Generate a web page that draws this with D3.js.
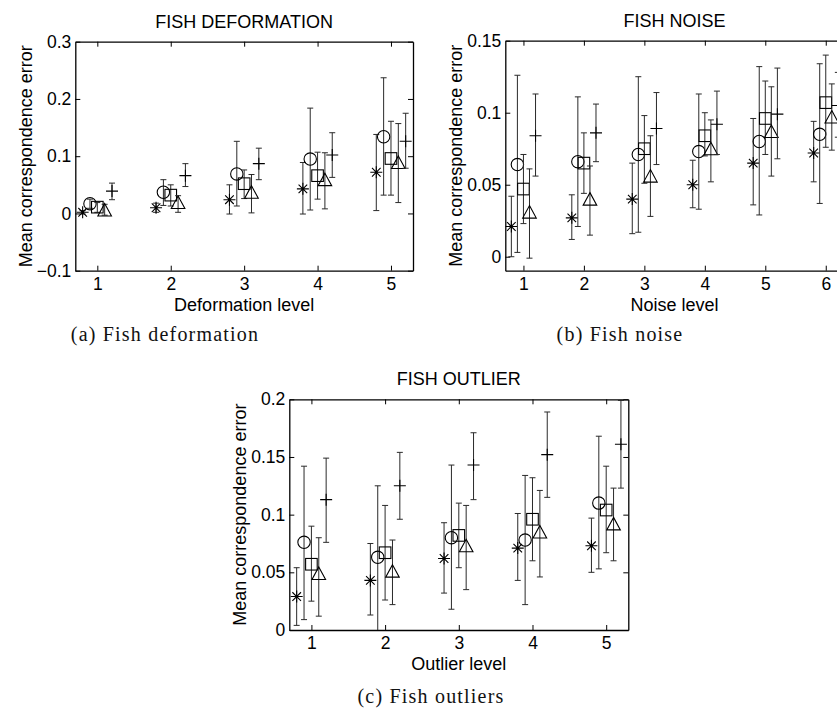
<html>
<head>
<meta charset="utf-8">
<style>
  body { margin: 0; background: #fff; }
  svg { display: block; }
  .axis text { font-family: "Liberation Sans", Arial, Helvetica, sans-serif; font-size: 17.5px; fill: #000; }
  .axis path, .axis line { stroke: #000; }
  .lbl { font-family: "Liberation Sans", Arial, Helvetica, sans-serif; font-size: 18px; fill: #000; }
  .cap { font-family: "Liberation Serif", "Times New Roman", serif; font-size: 20px; letter-spacing: 1.2px; fill: #111; }
</style>
<script src="https://cdnjs.cloudflare.com/ajax/libs/d3/7.8.5/d3.min.js"></script>
</head>
<body>
<div id="chart"></div>
<script>
// marker order in every series array: star, circle, square, triangle, plus
var methods = ["star", "circle", "square", "triangle", "plus"];

// ---- (a) deformation
var deformLevels = [1, 2, 3, 4, 5];
var deformMean = [
  [0.002, 0.010, 0.024, 0.043, 0.072],
  [0.017, 0.037, 0.069, 0.095, 0.134],
  [0.011, 0.032, 0.052, 0.066, 0.096],
  [0.006, 0.019, 0.037, 0.059, 0.089],
  [0.039, 0.066, 0.087, 0.102, 0.126]
];
var deformLow = [
  [-0.001, 0.002, -0.001, -0.001, 0.005],
  [0.009, 0.014, 0.013, 0.006, 0.032],
  [0.002, 0.013, 0.026, 0.025, 0.032],
  [-0.003, 0.002, 0.001, 0.008, 0.019],
  [0.024, 0.047, 0.059, 0.063, 0.079]
];
var deformHigh = [
  [0.005, 0.018, 0.050, 0.089, 0.138],
  [0.025, 0.059, 0.126, 0.184, 0.237],
  [0.019, 0.050, 0.076, 0.107, 0.161],
  [0.016, 0.031, 0.068, 0.106, 0.157],
  [0.053, 0.087, 0.114, 0.141, 0.175]
];
var deformYTicks = [-0.1, 0, 0.1, 0.2, 0.3];
var deformYLabels = ["\u22120.1", "0", "0.1", "0.2", "0.3"];

// ---- (b) noise
var noiseLevels = [1, 2, 3, 4, 5, 6];
var noiseMean = [
  [0.021, 0.027, 0.040, 0.050, 0.065, 0.072],
  [0.064, 0.066, 0.071, 0.073, 0.080, 0.085],
  [0.047, 0.065, 0.075, 0.084, 0.096, 0.107],
  [0.031, 0.040, 0.056, 0.075, 0.087, 0.097],
  [0.084, 0.086, 0.089, 0.092, 0.099, 0.105]
];
var noiseLow = [
  [0.000, 0.012, 0.016, 0.034, 0.036, 0.052],
  [0.003, 0.021, 0.017, 0.033, 0.029, 0.037],
  [0.023, 0.044, 0.051, 0.070, 0.071, 0.076],
  [-0.001, 0.015, 0.028, 0.052, 0.056, 0.074],
  [0.056, 0.066, 0.064, 0.071, 0.068, 0.083]
];
var noiseHigh = [
  [0.042, 0.043, 0.065, 0.067, 0.096, 0.094],
  [0.126, 0.111, 0.125, 0.113, 0.132, 0.134],
  [0.071, 0.086, 0.098, 0.100, 0.122, 0.140],
  [0.061, 0.063, 0.084, 0.095, 0.118, 0.120],
  [0.113, 0.106, 0.114, 0.115, 0.131, 0.128]
];
var noiseYTicks = [0, 0.05, 0.1, 0.15];
var noiseYLabels = ["0", "0.05", "0.1", "0.15"];

// ---- (c) outliers
var outlierLevels = [1, 2, 3, 4, 5];
var outlierMean = [
  [0.029, 0.043, 0.062, 0.071, 0.073],
  [0.076, 0.063, 0.080, 0.078, 0.110],
  [0.057, 0.067, 0.082, 0.096, 0.104],
  [0.049, 0.051, 0.073, 0.085, 0.092],
  [0.113, 0.125, 0.143, 0.152, 0.161]
];
var outlierLow = [
  [0.004, 0.013, 0.032, 0.043, 0.050],
  [0.009, -0.002, 0.018, 0.022, 0.053],
  [0.025, 0.026, 0.054, 0.060, 0.067],
  [0.012, 0.022, 0.035, 0.046, 0.060],
  [0.076, 0.096, 0.113, 0.115, 0.123]
];
var outlierHigh = [
  [0.054, 0.075, 0.093, 0.101, 0.097],
  [0.142, 0.125, 0.143, 0.134, 0.168],
  [0.090, 0.108, 0.110, 0.132, 0.142],
  [0.080, 0.078, 0.108, 0.121, 0.123],
  [0.149, 0.154, 0.171, 0.189, 0.199]
];
var outlierYTicks = [0, 0.05, 0.1, 0.15, 0.2];
var outlierYLabels = ["0", "0.05", "0.1", "0.15", "0.2"];

// x shift of each method inside a level group
var shift = [-0.2, -0.1, 0, 0.1, 0.2];

var svg = d3.select("#chart").append("svg")
  .attr("width", 837).attr("height", 711);
svg.append("rect").attr("width", 837).attr("height", 711).attr("fill", "#fff");

function marker(g, type, cx, cy) {
  var s = 6;
  if (type == "circle") {
    g.append("circle").attr("cx", cx).attr("cy", cy).attr("r", 6.2);
  } else if (type == "square") {
    g.append("rect").attr("x", cx - 5.8).attr("y", cy - 5.8).attr("width", 11.6).attr("height", 11.6);
  } else if (type == "triangle") {
    g.append("path").attr("d", "M" + cx + "," + (cy - 6.5) + "L" + (cx + 6.8) + "," + (cy + 6) + "L" + (cx - 6.8) + "," + (cy + 6) + "Z");
  } else if (type == "plus") {
    g.append("path").attr("d", "M" + (cx - s) + "," + cy + "H" + (cx + s) + "M" + cx + "," + (cy - s) + "V" + (cy + s));
  } else {
    var d = 4.3;
    g.append("path").attr("d",
      "M" + (cx - s) + "," + cy + "H" + (cx + s) +
      "M" + cx + "," + (cy - s) + "V" + (cy + s) +
      "M" + (cx - d) + "," + (cy - d) + "L" + (cx + d) + "," + (cy + d) +
      "M" + (cx - d) + "," + (cy + d) + "L" + (cx + d) + "," + (cy - d));
  }
}

function drawPanel(p, id) {
  var w = p.right - p.left, h = p.bottom - p.top;
  var x = d3.scaleLinear().domain(p.xDomain).range([0, w]);
  var y = d3.scaleLinear().domain(p.yDomain).range([h, 0]);

  var g = svg.append("g").attr("transform", "translate(" + p.left + "," + p.top + ")");

  svg.append("clipPath").attr("id", "clip" + id)
    .append("rect").attr("width", w).attr("height", h);

  // axes, MATLAB style: ticks inward, box all round
  g.append("g").attr("class", "axis")
    .attr("transform", "translate(0," + h + ")")
    .call(d3.axisBottom(x).tickValues(p.levels).tickSize(-5).tickSizeOuter(0).tickPadding(7)
      .tickFormat(d3.format("d")));
  g.append("g").attr("class", "axis")
    .call(d3.axisTop(x).tickValues(p.levels).tickSize(-5).tickSizeOuter(0).tickFormat(""));
  g.append("g").attr("class", "axis")
    .call(d3.axisLeft(y).tickValues(p.yTicks).tickSize(-5).tickSizeOuter(0).tickPadding(4)
      .tickFormat(function (d, i) { return p.yLabels[i]; }));
  g.append("g").attr("class", "axis")
    .attr("transform", "translate(" + w + ",0)")
    .call(d3.axisRight(y).tickValues(p.yTicks).tickSize(-5).tickSizeOuter(0).tickFormat(""));
  g.selectAll(".axis path.domain").attr("stroke-width", 1.3);

  // error bars + markers
  var plot = g.append("g").attr("clip-path", "url(#clip" + id + ")");
  methods.forEach(function (m, k) {
    p.levels.forEach(function (lv, i) {
      var cx = x(lv + shift[k]);
      var lo = y(p.low[k][i]), hi = y(p.high[k][i]), c = y(p.mean[k][i]);
      plot.append("path")
        .attr("d", "M" + cx + "," + lo + "V" + hi +
          "M" + (cx - 3) + "," + lo + "H" + (cx + 3) +
          "M" + (cx - 3) + "," + hi + "H" + (cx + 3))
        .attr("stroke", "#2a2a2a").attr("fill", "none").attr("stroke-width", 1);
      var mg = plot.append("g").attr("stroke", "#000").attr("fill", "none").attr("stroke-width", 1.1);
      marker(mg, m, cx, c);
    });
  });

  // titles and labels
  svg.append("text").attr("class", "lbl")
    .attr("x", p.left + w / 2).attr("y", p.top - 14)
    .attr("text-anchor", "middle").text(p.title);
  svg.append("text").attr("class", "lbl")
    .attr("x", p.left + w / 2).attr("y", p.bottom + 40)
    .attr("text-anchor", "middle").text(p.xLabel);
  svg.append("text").attr("class", "lbl")
    .attr("transform", "translate(" + (p.left - 43) + "," + (p.top + h / 2) + ") rotate(-90)")
    .attr("text-anchor", "middle").text("Mean correspondence error");
  svg.append("text").attr("class", "cap")
    .attr("x", p.capX).attr("y", p.capY)
    .attr("text-anchor", "middle").text(p.caption);
}

drawPanel({
  left: 75.3, right: 413, top: 41.7, bottom: 270.7,
  xDomain: [0.7, 5.3], yDomain: [-0.1, 0.3],
  levels: deformLevels, mean: deformMean, low: deformLow, high: deformHigh,
  yTicks: deformYTicks, yLabels: deformYLabels,
  title: "FISH DEFORMATION", xLabel: "Deformation level",
  caption: "(a)  Fish deformation", capX: 165, capY: 341
}, "a");

drawPanel({
  left: 505.3, right: 843.9, top: 40.7, bottom: 270.7,
  xDomain: [0.7, 6.3], yDomain: [-0.0097, 0.15],
  levels: noiseLevels, mean: noiseMean, low: noiseLow, high: noiseHigh,
  yTicks: noiseYTicks, yLabels: noiseYLabels,
  title: "FISH NOISE", xLabel: "Noise level",
  caption: "(b)  Fish noise", capX: 620, capY: 341
}, "b");

drawPanel({
  left: 289.3, right: 628.3, top: 399.3, bottom: 630,
  xDomain: [0.7, 5.3], yDomain: [0, 0.2],
  levels: outlierLevels, mean: outlierMean, low: outlierLow, high: outlierHigh,
  yTicks: outlierYTicks, yLabels: outlierYLabels,
  title: "FISH OUTLIER", xLabel: "Outlier level",
  caption: "(c)  Fish outliers", capX: 431, capY: 703
}, "c");
</script>
</body>
</html>
